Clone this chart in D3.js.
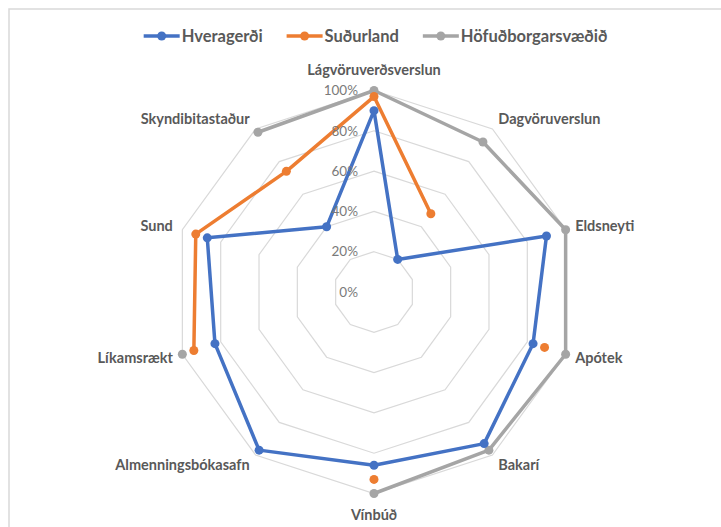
<!DOCTYPE html>
<html>
<head>
<meta charset="utf-8">
<script src="https://cdn.jsdelivr.net/npm/d3@7"></script>
<style>
  body { margin: 0; background: #fff; }
  svg { display: block; font-family: Lato, "Open Sans", sans-serif; }
</style>
</head>
<body>
<div id="chart"></div>
<script>
// Data
const categories = [
  "Lágvöruverðsverslun", "Dagvöruverslun", "Eldsneyti", "Apótek", "Bakarí",
  "Vínbúð", "Almenningsbókasafn", "Líkamsrækt", "Sund", "Skyndibitastaður",
];
const hveragerdi = [0.9, 0.2, 0.9, 0.83, 0.93, 0.86, 0.97, 0.83, 0.87, 0.4];
const sudurland = [0.97, 0.48, null, 0.89, null, 0.93, null, 0.94, 0.93, 0.74];
const hofudborg = [1.0, 0.92, 1.0, 1.0, 0.97, 1.0, null, 1.0, null, 0.98];
const seriesNames = ["Hveragerði", "Suðurland", "Höfuðborgarsvæðið"];
const tickValues = [0, 0.2, 0.4, 0.6, 0.8, 1];

const colors = ["#4472c4", "#ed7d31", "#a5a5a5"];
const series = [hveragerdi, sudurland, hofudborg].map((values, k) => ({
  name: seriesNames[k],
  color: colors[k],
  values,
}));

const width = 721, height = 527;
const cx = 374, cy = 292, radius = 201.5;

const svg = d3.select("#chart").append("svg")
  .attr("width", width).attr("height", height);

// Chart area border
svg.append("rect")
  .attr("x", 9).attr("y", 9)
  .attr("width", width + 10).attr("height", height + 10)
  .attr("fill", "#fff").attr("stroke", "#d9d9d9").attr("stroke-width", 1.5);

const g = svg.append("g").attr("transform", `translate(${cx},${cy})`);

// Scales
const rScale = d3.scaleLinear().domain([0, 1]).range([0, radius]);
const angle = d3.scaleLinear().domain([0, categories.length]).range([0, 2 * Math.PI]);

// Grid rings
const ring = d3.lineRadial()
  .angle((d, i) => angle(i))
  .radius((d) => rScale(d))
  .curve(d3.curveLinearClosed);
g.append("g").attr("class", "grid")
  .selectAll("path")
  .data(tickValues.filter((t) => t > 0))
  .join("path")
  .attr("d", (t) => ring(categories.map(() => t)))
  .attr("fill", "none")
  .attr("stroke", "#d9d9d9")
  .attr("stroke-width", 1.2);

// Series lines (drawn last series first so Hveragerði is on top)
const line = d3.lineRadial()
  .defined((d) => d.v != null)
  .angle((d) => angle(d.i))
  .radius((d) => rScale(d.v));

const gSeries = g.append("g").attr("class", "series")
  .selectAll("g")
  .data(series.slice().reverse())
  .join("g");

gSeries.append("path")
  .attr("d", (s) => {
    const pts = s.values.map((v, i) => ({ v, i }));
    pts.push({ v: s.values[0], i: 0 });
    return line(pts);
  })
  .attr("fill", "none")
  .attr("stroke", (s) => s.color)
  .attr("stroke-width", 3.5)
  .attr("stroke-linejoin", "round");

gSeries.selectAll("circle")
  .data((s) => s.values.map((v, i) => ({ v, i, color: s.color })).filter((d) => d.v != null))
  .join("circle")
  .attr("cx", (d) => rScale(d.v) * Math.sin(angle(d.i)))
  .attr("cy", (d) => -rScale(d.v) * Math.cos(angle(d.i)))
  .attr("r", 4.5)
  .attr("fill", (d) => d.color);

// Tick labels
g.append("g").attr("class", "ticks")
  .selectAll("text")
  .data(tickValues)
  .join("text")
  .attr("x", -16)
  .attr("y", (t) => -rScale(t))
  .attr("dy", "0.35em")
  .attr("text-anchor", "end")
  .attr("font-size", 13.5)
  .attr("fill", "#7a7a7a")
  .text(d3.format(".0%"));

// Category labels
g.append("g").attr("class", "labels")
  .selectAll("text")
  .data(categories)
  .join("text")
  .each(function (d, i) {
    const a = angle(i);
    const s = Math.sin(a), c = Math.cos(a);
    const vertical = Math.abs(s) < 0.01;
    const x = rScale(1) * s + 10 * s;
    const y = -rScale(1) * c - c * (vertical ? 21 : 12);
    d3.select(this)
      .attr("x", x).attr("y", y).attr("dy", "0.35em")
      .attr("text-anchor", vertical ? "middle" : s > 0 ? "start" : "end");
  })
  .attr("font-size", 14.5)
  .attr("font-weight", "bold")
  .attr("fill", "#595959")
  .text((d) => d);

// Legend
const legend = svg.append("g").attr("class", "legend");
const item = legend.selectAll("g").data(series).join("g");
item.append("line")
  .attr("x1", 0).attr("x2", 36)
  .attr("stroke", (d) => d.color).attr("stroke-width", 3.5);
item.append("circle").attr("cx", 18).attr("r", 4.5).attr("fill", (d) => d.color);
item.append("text")
  .attr("x", 38).attr("dy", "0.35em")
  .attr("font-size", 16.5).attr("font-weight", "bold")
  .attr("fill", "#595959")
  .text((d) => d.name);

let offset = 0;
const gap = 24;
item.each(function () {
  const w = 38 + d3.select(this).select("text").node().getComputedTextLength();
  d3.select(this).attr("data-w", w);
});
const total = d3.sum(item.nodes(), (n) => +n.getAttribute("data-w")) + gap * (series.length - 1);
offset = 375.5 - total / 2;
item.attr("transform", function () {
  const t = `translate(${offset},36)`;
  offset += +this.getAttribute("data-w") + gap;
  return t;
});
</script>
</body>
</html>
